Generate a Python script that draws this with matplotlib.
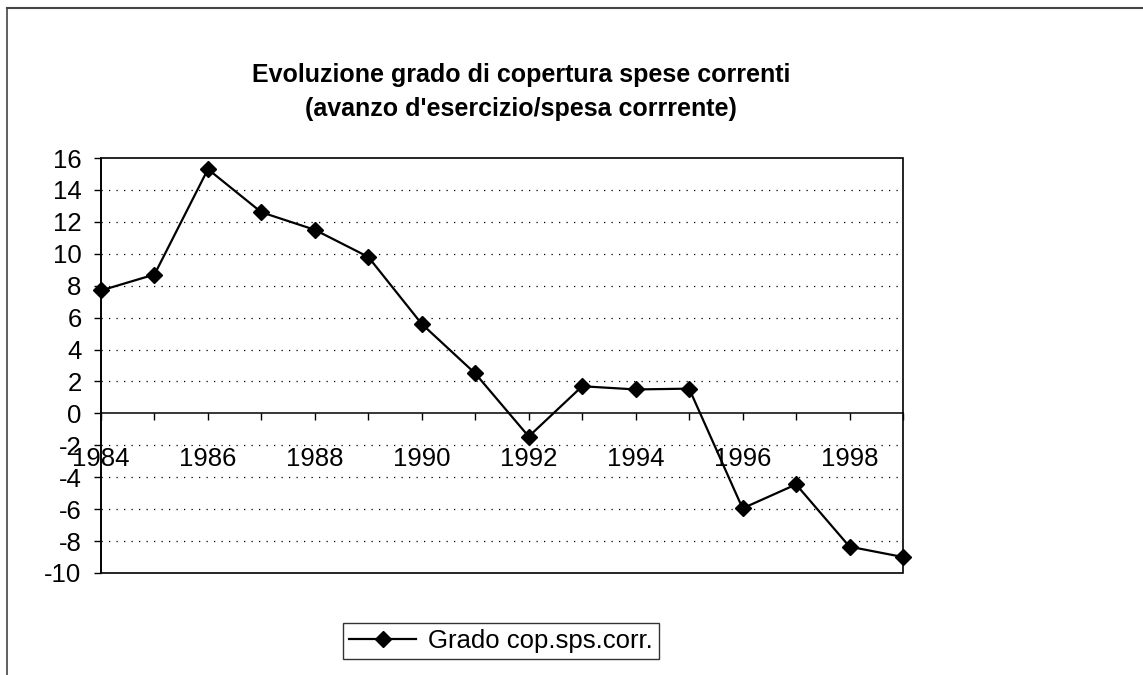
import matplotlib
matplotlib.use("Agg")
import matplotlib.pyplot as plt
from matplotlib.patches import Rectangle
from matplotlib.ticker import FuncFormatter

plt.rcParams['font.family'] = ['Liberation Sans', 'DejaVu Sans']
plt.rcParams['axes.unicode_minus'] = False

anni = list(range(1984, 2000))
grado = [7.7, 8.7, 15.3, 12.6, 11.5, 9.8, 5.6, 2.5,
         -1.45, 1.7, 1.5, 1.55, -5.95, -4.45, -8.35, -9.0]
yticks = list(range(-10, 17, 2))
titolo = "Evoluzione grado di copertura spese correnti\n(avanzo d'esercizio/spesa corrrente)"
serie = "Grado cop.sps.corr."

W, H = 1143, 675
fig = plt.figure(figsize=(W/100, H/100), dpi=100)
fig.patch.set_facecolor('white')

# chart frame (only top and left visible in the scan)
fig.add_artist(plt.Line2D([7/W, 1], [1-8/H, 1-8/H], color='#444444', lw=1.5))
fig.add_artist(plt.Line2D([7/W, 7/W], [0, 1-8/H], color='#444444', lw=1.2))

ax = fig.add_axes([101/W, 102/H, 802/W, 415/H])

ax.plot(anni, grado, color='black', lw=1.6, marker='D', markersize=8.5,
        markerfacecolor='black', markeredgecolor='black', label=serie,
        clip_on=False, zorder=5)

ax.set_xlim(1984, 1999)
ax.set_ylim(-10, 16)
ax.set_yticks(yticks)
ax.set_xticks(anni)
ax.xaxis.set_major_formatter(FuncFormatter(lambda v, p: str(int(v)) if int(v) % 2 == 0 else ''))

for y in yticks:
    if y not in (-10, 0, 16):
        ax.axhline(y, color='black', lw=0.9, linestyle=(0, (1, 5)), zorder=1)

ax.spines['bottom'].set_position(('data', 0))
ax.spines['bottom'].set_linewidth(1.1)
ax.spines['top'].set_visible(False)
ax.spines['right'].set_visible(False)
ax.spines['left'].set_linewidth(1.2)
ax.add_patch(Rectangle((0, 0), 1, 1, transform=ax.transAxes, fill=False,
                       lw=1.2, edgecolor='black', clip_on=False, zorder=4))

ax.tick_params(axis='x', direction='out', length=5, width=1, pad=19, labelsize=18.5)
ax.tick_params(axis='y', direction='out', length=5, width=1, pad=9, labelsize=18.5)

fig.text(521/W, 1-92/H, titolo, ha='center', va='center', fontsize=18,
         fontweight='bold', linespacing=1.55)

leg = fig.legend(loc='center', bbox_to_anchor=(501/W, 1-641/H), fontsize=18.5,
                 frameon=True, fancybox=False, edgecolor='black',
                 handlelength=2.6, borderpad=0.25, handletextpad=0.45)
leg.get_frame().set_linewidth(1.0)

fig.savefig('out.png', dpi=100)
